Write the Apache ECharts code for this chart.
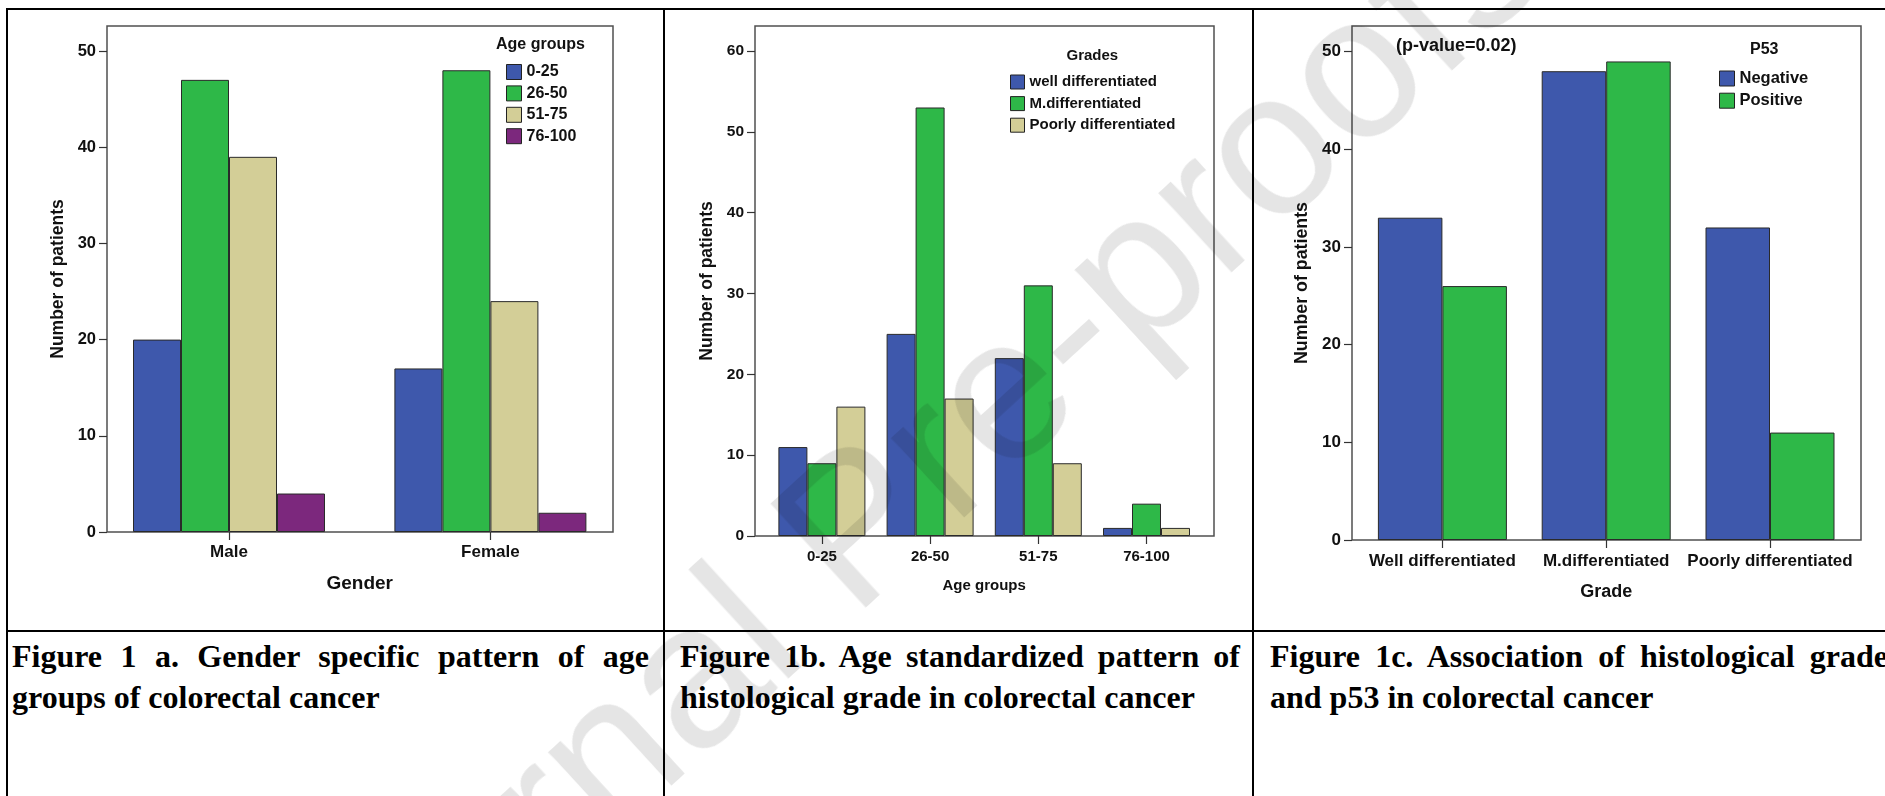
<!DOCTYPE html>
<html>
<head>
<meta charset="utf-8">
<title>Figure 1 - colorectal cancer</title>
<script src="https://cdn.jsdelivr.net/npm/echarts/dist/echarts.min.js"></script>
<style>
    html, body { margin: 0; padding: 0; background: #fff; }
    body { position: relative; width: 1885px; height: 796px; overflow: hidden; }
    .line { position: absolute; background: #000; }
    .chart { position: absolute; }
    .caption {
        position: absolute;
        font-family: "Liberation Serif", "Times New Roman", serif;
        font-weight: bold;
        font-size: 32px;
        line-height: 41px;
        text-align: justify;
        color: #000;
    }
    #watermark {
        position: absolute;
        left: 889px;
        top: 490px;
        transform: translate(-50%, -50%) rotate(-42.5deg);
        font-family: "Liberation Sans", Arial, sans-serif;
        font-size: 204px;
        line-height: 1;
        white-space: nowrap;
        color: rgba(0, 0, 0, 0.1);
        pointer-events: none;
    }
</style>
</head>
<body>
<!-- table rules -->
<div class="line" style="left:6px;top:8px;width:1879px;height:2px;"></div>
<div class="line" style="left:6px;top:8px;width:2px;height:788px;"></div>
<div class="line" style="left:663px;top:8px;width:2px;height:788px;"></div>
<div class="line" style="left:1252px;top:8px;width:2px;height:788px;"></div>
<div class="line" style="left:6px;top:630px;width:1879px;height:2px;"></div>

<div id="gender_age" class="chart" style="left:8px;top:10px;width:655px;height:620px;"></div>
<div id="age_grade" class="chart" style="left:665px;top:10px;width:587px;height:620px;"></div>
<div id="grade_p53" class="chart" style="left:1254px;top:10px;width:631px;height:620px;"></div>

<div class="caption" style="left:12px;top:636px;width:637px;">Figure 1 a. Gender specific pattern of age groups of colorectal cancer</div>
<div class="caption" style="left:680px;top:636px;width:560px;">Figure 1b. Age standardized pattern of histological grade in colorectal cancer</div>
<div class="caption" style="left:1270px;top:636px;width:618px;">Figure 1c. Association of histological grade and p53 in colorectal cancer</div>

<div id="watermark">Journal Pre-proofs</div>

<script>
var FONT = '"Liberation Sans", Arial, sans-serif';
var spssColors = ['#3E58AC', '#2EB848', '#D3CE97', '#7C287D'];

// Figure 1a data
var genders = ['Male', 'Female'];
var ageGroups = ['0-25', '26-50', '51-75', '76-100'];
var age0to25 = [20, 17];
var age26to50 = [47, 48];
var age51to75 = [39, 24];
var age76to100 = [4, 2];
var ticks1 = [0, 10, 20, 30, 40, 50];

// Figure 1b data
var grades = ['well differentiated', 'M.differentiated', 'Poorly differentiated'];
var wellByAge = [11, 25, 22, 1];
var moderateByAge = [9, 53, 31, 4];
var poorByAge = [16, 17, 9, 1];
var ticks2 = [0, 10, 20, 30, 40, 50, 60];

// Figure 1c data
var gradeLabels = ['Well differentiated', 'M.differentiated', 'Poorly differentiated'];
var p53Status = ['Negative', 'Positive'];
var p53Negative = [33, 48, 32];
var p53Positive = [26, 49, 11];
var ticks3 = [0, 10, 20, 30, 40, 50];

function barSeries(name, data, width) {
    return {
        name: name,
        type: 'bar',
        data: data,
        barWidth: width,
        barGap: '0%',
        itemStyle: { borderColor: '#2a2a2a', borderWidth: 1 }
    };
}

function frameParts(left, top, width, height) {
    // second grid only draws the SPSS style box round the plot
    return {
        grid: { left: left, top: top, width: width, height: height, show: true,
                borderColor: '#505050', borderWidth: 1.5, backgroundColor: 'transparent' },
        xAxis: { gridIndex: 1, type: 'value', show: false },
        yAxis: { gridIndex: 1, type: 'value', show: false }
    };
}

function yAxisFor(max, ticks, offset, fontSize, nameGap, nameSize) {
    return {
        gridIndex: 0,
        type: 'value',
        min: 0,
        max: max,
        interval: 10,
        offset: offset,
        splitLine: { show: false },
        axisLine: { show: false },
        axisTick: { show: true, length: 8, customValues: ticks, lineStyle: { color: '#333', width: 1.2 } },
        axisLabel: { margin: 11, customValues: ticks, fontSize: fontSize, fontWeight: 'bold', color: '#111', fontFamily: FONT,
                     formatter: function (v) { return v % 10 === 0 ? v : ''; } },
        name: 'Number of patients',
        nameLocation: 'middle',
        nameGap: nameGap,
        nameTextStyle: { fontSize: nameSize, fontWeight: 'bold', color: '#111', fontFamily: FONT }
    };
}

function xAxisFor(cats, name, fontSize, margin, nameSize, nameGap) {
    return {
        gridIndex: 0,
        type: 'category',
        data: cats,
        axisLine: { show: false },
        axisTick: { show: true, alignWithLabel: true, length: 8, lineStyle: { color: '#333', width: 1.2 } },
        axisLabel: { interval: 0, margin: margin, fontSize: fontSize, fontWeight: 'bold', color: '#111', fontFamily: FONT },
        name: name,
        nameLocation: 'middle',
        nameGap: nameGap,
        nameTextStyle: { fontSize: nameSize, fontWeight: 'bold', color: '#111', fontFamily: FONT }
    };
}

/* ------------------------------------------------------------------------------
-----------------------  Chart 1a ------------------------------------------------
-------------------------------------------------------------------------------*/

var dom = document.getElementById("gender_age");
var myChart1 = echarts.init(dom);
var frame1 = frameParts(99, 16, 506, 506);
var option = {
    animation: false,
    color: spssColors,
    textStyle: { fontFamily: FONT },
    title: {
        text: 'Age groups',
        left: 488,
        top: 27,
        padding: 0,
        textStyle: { fontSize: 16, fontWeight: 'bold', color: '#111', fontFamily: FONT }
    },
    legend: {
        orient: 'vertical',
        left: 498,
        top: 54,
        padding: 0,
        icon: 'rect',
        itemWidth: 15,
        itemHeight: 15,
        itemGap: 5.4,
        itemStyle: { borderColor: '#222', borderWidth: 1 },
        textStyle: { fontSize: 16, fontWeight: 'bold', color: '#111', lineHeight: 15, fontFamily: FONT },
        data: ageGroups
    },
    grid: [{ left: 90.3, top: 16, width: 522.8, height: 506, show: false }, frame1.grid],
    xAxis: [xAxisFor(genders, 'Gender', 17, 12, 19, 42), frame1.xAxis],
    yAxis: [yAxisFor(52.6, ticks1, -8.7, 16.5, 36, 17.5), frame1.yAxis],
    series: [
        barSeries(ageGroups[0], age0to25, 48),
        barSeries(ageGroups[1], age26to50, 48),
        barSeries(ageGroups[2], age51to75, 48),
        barSeries(ageGroups[3], age76to100, 48)
    ]
};
myChart1.setOption(option);

/* ------------------------------------------------------------------------------
-----------------------  Chart 1b ------------------------------------------------
-------------------------------------------------------------------------------*/

var dom = document.getElementById("age_grade");
var myChart2 = echarts.init(dom);
var frame2 = frameParts(90, 16, 459, 510);
option = {
    animation: false,
    color: spssColors,
    textStyle: { fontFamily: FONT },
    title: {
        text: 'Grades',
        left: 401.5,
        top: 38,
        padding: 0,
        textStyle: { fontSize: 15, fontWeight: 'bold', color: '#111', fontFamily: FONT }
    },
    legend: {
        orient: 'vertical',
        left: 345,
        top: 64.5,
        padding: 0,
        icon: 'rect',
        itemWidth: 14,
        itemHeight: 14,
        itemGap: 6.6,
        itemStyle: { borderColor: '#222', borderWidth: 1 },
        textStyle: { fontSize: 15, fontWeight: 'bold', color: '#111', lineHeight: 14, fontFamily: FONT },
        data: grades
    },
    grid: [{ left: 102.8, top: 16, width: 432.8, height: 510, show: false }, frame2.grid],
    xAxis: [xAxisFor(ageGroups, 'Age groups', 15, 13.5, 15, 42), frame2.xAxis],
    yAxis: [yAxisFor(63.08, ticks2, 12.8, 15.5, 31, 17.5), frame2.yAxis],
    series: [
        barSeries(grades[0], wellByAge, 29),
        barSeries(grades[1], moderateByAge, 29),
        barSeries(grades[2], poorByAge, 29)
    ]
};
myChart2.setOption(option);

/* ------------------------------------------------------------------------------
-----------------------  Chart 1c ------------------------------------------------
-------------------------------------------------------------------------------*/

var dom = document.getElementById("grade_p53");
var myChart3 = echarts.init(dom);
var frame3 = frameParts(98, 16, 509, 514);
option = {
    animation: false,
    color: spssColors,
    textStyle: { fontFamily: FONT },
    title: {
        text: 'P53',
        left: 496,
        top: 32,
        padding: 0,
        textStyle: { fontSize: 16, fontWeight: 'bold', color: '#111', fontFamily: FONT }
    },
    graphic: [{
        type: 'text',
        left: 142,
        top: 27.5,
        style: { text: '(p-value=0.02)', font: 'bold 18px ' + FONT, fill: '#111' }
    }],
    legend: {
        orient: 'vertical',
        left: 465,
        top: 60,
        padding: 0,
        icon: 'rect',
        itemWidth: 15,
        itemHeight: 15,
        itemGap: 5.2,
        itemStyle: { borderColor: '#222', borderWidth: 1 },
        textStyle: { fontSize: 16.5, fontWeight: 'bold', color: '#111', lineHeight: 15, fontFamily: FONT },
        data: p53Status
    },
    grid: [{ left: 106.5, top: 16, width: 491.4, height: 514, show: false }, frame3.grid],
    xAxis: [xAxisFor(gradeLabels, 'Grade', 17, 13, 18, 43), frame3.xAxis],
    yAxis: [yAxisFor(52.63, ticks3, 8.5, 17, 35, 17.8), frame3.yAxis],
    series: [
        barSeries(p53Status[0], p53Negative, 64.5),
        barSeries(p53Status[1], p53Positive, 64.5)
    ]
};
myChart3.setOption(option);
</script>
</body>
</html>
